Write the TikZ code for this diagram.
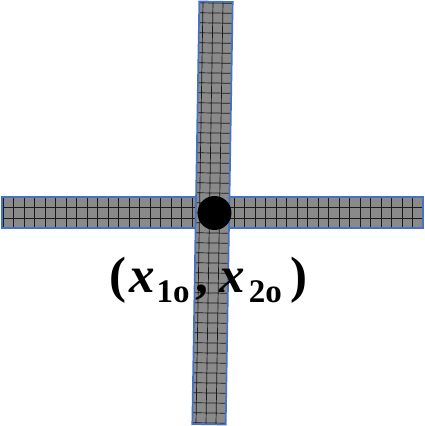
\documentclass[tikz,border=0pt]{standalone}
\usepackage{fontspec}
\setmainfont{Liberation Serif}
\begin{document}
\begin{tikzpicture}[x=1pt,y=1pt,
  barfill/.style={fill={rgb,255:red,138;green,138;blue,138}},
  gridline/.style={draw={rgb,255:red,25;green,25;blue,25},line width=0.7pt},
  barborder/.style={draw={rgb,255:red,68;green,114;blue,196},line width=1.7pt}]
\fill[white] (0,0) rectangle (425,426);
\useasboundingbox (0,0) rectangle (425,426);
% horizontal bar
\begin{scope}
  \path[barfill] (2,198) rectangle (423,229);
  \clip (2,198) rectangle (423,229);
  \draw[gridline,xshift=3pt,yshift=-2pt] (0,190) grid[step=10.5pt] (430,240);
\end{scope}
\draw[barborder] (2,198) rectangle (423,229);
% vertical bar (slightly tilted)
\begin{scope}[shift={(212.5,213)},rotate=-0.95]
  \path[barfill] (-16.7,-211.3) rectangle (16.7,211.3);
  \begin{scope}
    \clip (-16.7,-211.3) rectangle (16.7,211.3);
    \draw[gridline,xshift=-3pt] (-30,-220) grid[step=10pt] (30,220);
  \end{scope}
  \draw[barborder] (-16.7,-211.3) rectangle (16.7,211.3);
\end{scope}
% point
\node[fill=black,circle,minimum size=34pt,inner sep=0pt] (pt) at (214.5,213) {};
% label
\node[inner sep=0pt,anchor=base west] (lab) at (109,133) {\fontsize{51}{53}\selectfont\bfseries (\kern3pt\textit{x}\kern2pt\raisebox{-10pt}{\fontsize{33}{35}\selectfont 1o}\kern6pt,\kern11pt\textit{x}\kern4pt\raisebox{-10pt}{\fontsize{33}{35}\selectfont 2o}\kern9pt)};
\end{tikzpicture}
\end{document}
